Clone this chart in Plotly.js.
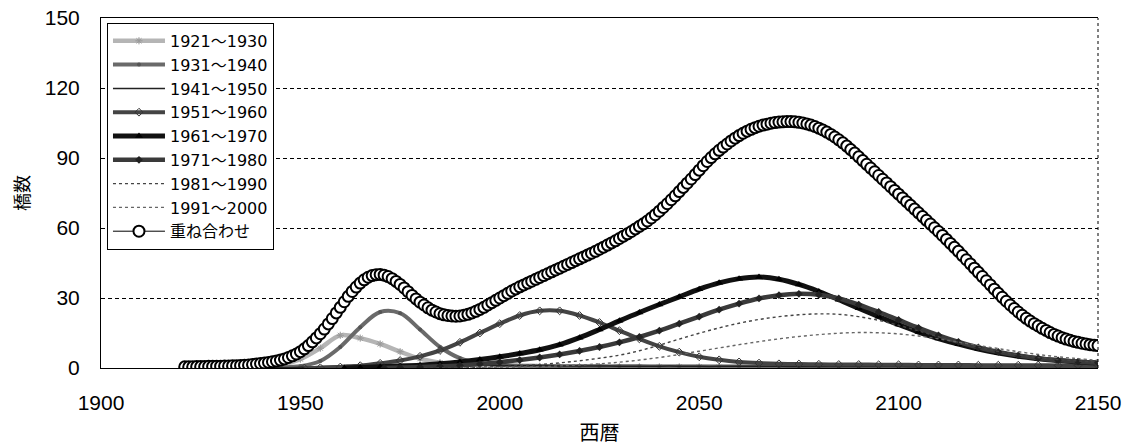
<!DOCTYPE html>
<html>
<head>
<meta charset="utf-8">
<script src="https://cdn.plot.ly/plotly-3.0.1.min.js"></script>
<style>html,body{margin:0;padding:0;background:#fff;}#chart{width:1126px;height:446px;}</style>
</head>
<body>
<div id="chart"></div>
<script>
// ---- Data ----
const SERIES_NAMES = ["1921～1930","1931～1940","1941～1950","1951～1960","1961～1970","1971～1980","1981～1990","1991～2000","重ね合わせ"];
const START_YEARS = [1921, 1931, 1941, 1951, 1961, 1971, 1981, 1991];
const END_YEAR = 2150;

// component values: first at the start year, then every 5 years up to 2150
const v1921 = [0,0.1,0.1,0.2,0.5,1.5,3.8,8.5,14.0,12.8,10.3,7.0,4.0,2.3,1.4,1.0,0.8,
  0.7,0.7,0.6,0.6,0.6,0.5,0.5,0.5,0.5,0.5,0.4,0.4,0.4,0.4,0.4,0.4,0.4,0.4,0.3,0.3,0.3,0.3,0.3,0.3,0.3,0.3,0.3,0.3,0.3,0.3];
const v1931 = [0,0.1,0.1,0.3,0.8,3.0,9.0,17.5,24.0,23.5,16.5,9.0,4.2,2.0,1.3,
  1.0,0.9,0.8,0.8,0.7,0.7,0.7,0.6,0.6,0.6,0.6,0.6,0.5,0.5,0.5,0.5,0.5,0.5,0.5,0.5,0.4,0.4,0.4,0.4,0.4,0.4,0.4,0.4,0.4,0.4];
const v1941 = [0,0.1,0.3,0.6,1.0,1.4,1.6,1.6,1.5,1.4,1.3,1.2,1.1,
  1.0,1.0,0.9,0.9,0.9,0.8,0.8,0.8,0.8,0.7,0.7,0.7,0.7,0.7,0.6,0.6,0.6,0.6,0.6,0.6,0.5,0.5,0.5,0.5,0.5,0.5,0.5,0.5,0.5,0.5];
const v1951 = [0,0.1,0.4,1.0,2.0,3.2,5.0,7.5,11.0,15.0,19.0,22.5,24.5,24.5,22.5,19.5,16.0,12.5,9.3,6.8,4.8,3.5,2.6,2.1,1.8,
  1.7,1.6,1.5,1.5,1.4,1.4,1.3,1.3,1.3,1.2,1.2,1.2,1.2,1.1,1.1,1.1];
const v1961 = [0,0.2,0.5,0.8,1.2,1.8,2.6,3.6,4.8,6.2,7.8,10.0,13.0,16.5,20.2,23.8,27.2,30.5,33.8,36.5,38.3,39.0,38.0,35.8,
  32.8,29.3,25.6,22.0,18.6,15.4,12.6,10.2,8.1,6.4,5.0,4.0,3.2,2.6,2.2];
const v1971 = [0,0.2,0.4,0.7,1.1,1.7,2.5,3.4,4.5,5.8,7.3,9.0,11.0,13.3,16.0,19.0,22.0,25.0,27.6,29.8,31.2,31.8,31.4,
  29.8,27.2,24.0,20.6,17.2,14.0,11.2,8.8,6.9,5.4,4.2,3.3,2.7,2.3];
const v1981 = [0,0.1,0.2,0.4,0.6,1.0,1.5,2.2,3.1,4.2,5.5,7.4,9.8,12.4,14.9,17.2,19.2,20.8,22.0,22.8,23.2,23.0,22.0,
  20.4,18.3,15.9,13.4,11.0,8.9,7.1,5.6,4.5,3.6,3.0,2.5];
const v1991 = [0,0.1,0.2,0.4,0.6,0.9,1.3,1.8,2.5,3.4,4.5,5.8,7.2,8.6,10.0,11.3,12.5,13.5,14.3,14.9,15.2,15.1,14.6,
  13.7,12.5,11.1,9.7,8.3,7.0,5.8,4.8,4.0,3.3];

// 重ね合わせ: one value per year, 1921..2150
const vSum = [
  0.5,0.5,0.5,0.6,0.6,0.6,0.7,0.7,0.8,0.8,
  0.9,0.9,1.0,1.0,1.1,1.2,1.3,1.5,1.7,1.9,
  2.1,2.4,2.7,3.0,3.4,3.9,4.5,5.2,6.0,7.0,
  8.2,9.6,11.2,12.9,14.7,16.7,18.9,21.2,23.6,26.0,
  28.4,30.7,32.8,34.7,36.4,37.8,38.9,39.6,40.0,40.1,
  39.8,39.2,38.3,37.1,35.8,34.3,32.7,31.1,29.6,28.2,
  27.0,25.8,24.8,24.0,23.3,22.8,22.5,22.3,22.2,22.3,
  22.6,23.0,23.6,24.3,25.1,26.0,27.0,28.0,29.0,30.0,
  31.0,32.0,33.0,33.9,34.8,35.6,36.4,37.2,38.0,38.8,
  39.6,40.4,41.2,42.0,42.8,43.6,44.4,45.2,46.0,46.8,
  47.6,48.4,49.2,50.0,50.9,51.8,52.7,53.6,54.5,55.5,
  56.5,57.5,58.5,59.6,60.7,61.8,63.0,64.3,65.7,67.2,
  68.8,70.4,72.1,73.8,75.6,77.4,79.2,81.0,82.9,84.8,
  86.7,88.5,90.2,91.8,93.3,94.7,96.0,97.3,98.5,99.6,
  100.6,101.5,102.3,103.0,103.6,104.1,104.5,104.9,105.2,105.4,
  105.5,105.6,105.6,105.5,105.3,105.0,104.6,104.1,103.5,102.8,
  102.0,101.1,100.1,99.0,97.8,96.5,95.1,93.6,92.1,90.5,
  88.9,87.3,85.7,84.1,82.5,80.9,79.3,77.7,76.1,74.5,
  72.9,71.3,69.7,68.1,66.5,64.9,63.3,61.7,60.1,58.5,
  56.8,55.1,53.4,51.7,50.0,48.2,46.4,44.6,42.8,41.0,
  39.2,37.4,35.6,33.8,32.0,30.3,28.6,27.0,25.5,24.0,
  22.6,21.3,20.1,19.0,18.0,17.0,16.1,15.2,14.4,13.7,
  13.0,12.4,11.9,11.4,11.0,10.6,10.3,10.0,9.8,9.6
];

const X_TICKS = [1900, 1950, 2000, 2050, 2100, 2150];
const Y_TICKS = [0, 30, 60, 90, 120, 150];
const X_TITLE = "西暦";
const Y_TITLE = "橋数";

// ---- Build traces ----
function xFor(start) {
  const xs = [start];
  for (let y = Math.ceil((start + 1) / 5) * 5; y <= END_YEAR; y += 5) xs.push(y);
  return xs;
}
const compValues = [v1921, v1931, v1941, v1951, v1961, v1971, v1981, v1991];
const styles = [
  {line:{color:'#b5b5b5', width:4.5}, marker:{symbol:'asterisk-open', size:6, color:'#999', line:{color:'#999', width:1}}, mode:'lines+markers'},
  {line:{color:'#6a6a6a', width:4}, marker:{symbol:'circle', size:4, color:'#555'}, mode:'lines+markers'},
  {line:{color:'#222', width:1.5}, marker:{symbol:'circle', size:2, color:'#222'}, mode:'lines'},
  {line:{color:'#444', width:4}, marker:{symbol:'diamond-open', size:6, color:'#333', line:{color:'#333', width:1}}, mode:'lines+markers'},
  {line:{color:'#111', width:5}, marker:{symbol:'triangle-up', size:7, color:'#000'}, mode:'lines+markers'},
  {line:{color:'#3a3a3a', width:4.5}, marker:{symbol:'diamond', size:6, color:'#222'}, mode:'lines+markers'},
  {line:{color:'#444', width:1.4, dash:'dot'}, mode:'lines'},
  {line:{color:'#666', width:1.4, dash:'dot'}, mode:'lines'}
];

const traces = compValues.map((vals, i) => {
  const st = styles[i];
  const t = {
    type:'scatter', name: SERIES_NAMES[i],
    x: xFor(START_YEARS[i]), y: vals,
    mode: st.mode,
    line: Object.assign({shape:'spline', smoothing:1}, st.line)
  };
  if (st.marker) t.marker = st.marker;
  return t;
});

const sumX = [];
for (let y = START_YEARS[0]; y <= END_YEAR; y++) sumX.push(y);
traces.push({
  type:'scatter', name: SERIES_NAMES[8], x: sumX, y: vSum, mode:'lines+markers',
  line:{color:'#000', width:1},
  marker:{symbol:'circle', size:11, color:'#fff', line:{color:'#000', width:2}}
});

const FONT = '"Liberation Sans", "Noto Sans CJK JP", sans-serif';
const LEGEND_FONT = '"DejaVu Sans", "Noto Sans CJK JP", sans-serif';
const layout = {
  width:1126, height:446,
  margin:{l:101, r:28, t:18, b:78},
  paper_bgcolor:'#fff', plot_bgcolor:'#fff',
  font:{family:FONT, color:'#000', size:20},
  showlegend:true,
  legend:{x:0.006, y:0.986, xanchor:'left', yanchor:'top', bgcolor:'#fff', bordercolor:'#000', borderwidth:1,
          font:{family:LEGEND_FONT, size:16, color:'#000'}, itemwidth:52, tracegroupgap:0},
  xaxis:{range:[1900, 2150], tickvals:X_TICKS, ticktext:X_TICKS.map(String), showgrid:false, zeroline:false,
         showline:true, linecolor:'#000', linewidth:1, mirror:true, ticks:'', ticklabelstandoff:16,
         tickfont:{size:21},
         title:{text:X_TITLE, font:{size:20, family:'"Noto Sans CJK JP", sans-serif'}, standoff:12}},
  yaxis:{range:[0, 150], tickvals:Y_TICKS, ticktext:Y_TICKS.map(String), showgrid:true, gridcolor:'#000', gridwidth:1,
         griddash:'4px,3px', zeroline:false, showline:true, linecolor:'#000', linewidth:1, ticks:'', ticklabelstandoff:16,
         tickfont:{size:21},
         title:{text:Y_TITLE, font:{size:18, family:'"Noto Sans CJK JP", sans-serif'}, standoff:10}},
  shapes:[{type:'line', xref:'paper', yref:'paper', x0:1, x1:1, y0:0, y1:1, line:{color:'#000', width:1, dash:'dot'}}]
};

Plotly.newPlot('chart', traces, layout, {staticPlot:true, displayModeBar:false});
</script>
</body>
</html>
